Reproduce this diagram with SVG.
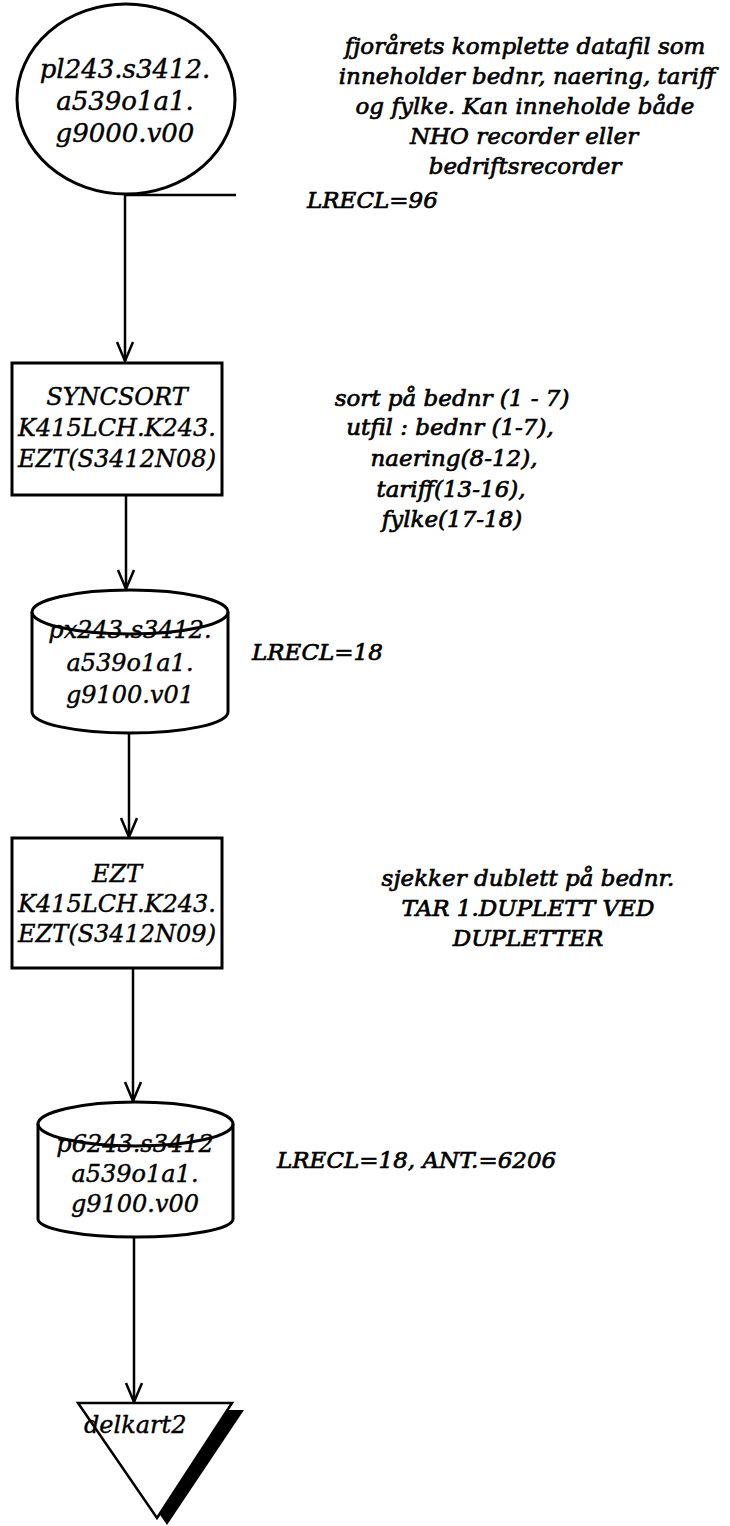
<svg xmlns="http://www.w3.org/2000/svg" width="730" height="1526" viewBox="0 0 730 1526">
<style>
  .t { font-family: "DejaVu Serif", "Liberation Serif", serif; font-style: italic; font-size: 24px; fill: #000; stroke: #000; stroke-width: 0.4; text-anchor: middle; }
  .big { font-size: 26px; }
  .a { font-family: "DejaVu Serif", "Liberation Serif", serif; font-style: italic; font-size: 23px; fill: #000; stroke: #000; stroke-width: 0.7; text-anchor: middle; }
  .l { text-anchor: start; }
  .s { fill: #fff; stroke: #000; stroke-width: 3; }
  .c { fill: none; stroke: #000; stroke-width: 2.5; }
</style>
<defs>
  <marker id="arr" markerUnits="userSpaceOnUse" markerWidth="30" markerHeight="30" refX="0" refY="0" orient="auto" overflow="visible" viewBox="-25 -12 30 24">
    <path d="M -19 -8 L 0 0 L -19 8" fill="none" stroke="#000" stroke-width="2.5"/>
  </marker>
</defs>
<rect width="730" height="1526" fill="#fff"/>
<g id="connectors">
  <line class="c" x1="125" y1="195" x2="236" y2="195"/>
  <line class="c" x1="125" y1="195" x2="125" y2="361" marker-end="url(#arr)"/>
  <line class="c" x1="126" y1="495" x2="126" y2="589" marker-end="url(#arr)"/>
  <line class="c" x1="129" y1="734" x2="129" y2="837" marker-end="url(#arr)"/>
  <line class="c" x1="133" y1="968" x2="133" y2="1101" marker-end="url(#arr)"/>
  <line class="c" x1="134" y1="1237" x2="134" y2="1402" marker-end="url(#arr)"/>
</g>
<g id="n1">
  <ellipse class="s" cx="126" cy="99" rx="109" ry="95"/>
  <text class="t big" x="125" y="78">pl243.s3412.</text>
  <text class="t big" x="125" y="110">a539o1a1.</text>
  <text class="t big" x="125" y="142">g9000.v00</text>
</g>
<g id="note1">
  <text class="a" x="525" y="54">fjorårets komplette datafil som</text>
  <text class="a" x="527" y="84">inneholder bednr, naering, tariff</text>
  <text class="a" x="525" y="114">og fylke. Kan inneholde både</text>
  <text class="a" x="524" y="144">NHO recorder eller</text>
  <text class="a" x="525" y="174">bedriftsrecorder</text>
  <text class="a l" x="307" y="208">LRECL=96</text>
</g>
<g id="n2">
  <rect class="s" x="12" y="363" width="210" height="132"/>
  <text class="t" x="117" y="405">SYNCSORT</text>
  <text class="t" x="117" y="436">K415LCH.K243.</text>
  <text class="t" x="117" y="467">EZT(S3412N08)</text>
</g>
<g id="note2">
  <text class="a" x="452" y="406">sort på bednr (1 - 7)</text>
  <text class="a" x="450" y="435">utfil : bednr (1-7),</text>
  <text class="a" x="454" y="466">naering(8-12),</text>
  <text class="a" x="451" y="497">tariff(13-16),</text>
  <text class="a" x="452" y="527">fylke(17-18)</text>
</g>
<g id="n3">
  <path class="s" d="M 32 612 A 98 22 0 0 1 228 612 L 228 712 A 98 21 0 0 1 32 712 Z"/>
  <path d="M 32 612 A 98 22 0 0 0 228 612" fill="none" stroke="#000" stroke-width="3"/>
  <text class="t" x="130" y="638">px243.s3412.</text>
  <text class="t" x="130" y="671">a539o1a1.</text>
  <text class="t" x="130" y="703">g9100.v01</text>
  <text class="a l" x="252" y="660">LRECL=18</text>
</g>
<g id="n4">
  <rect class="s" x="12" y="838" width="210" height="130"/>
  <text class="t" x="117" y="882">EZT</text>
  <text class="t" x="117" y="912">K415LCH.K243.</text>
  <text class="t" x="117" y="942">EZT(S3412N09)</text>
</g>
<g id="note3">
  <text class="a" x="528" y="886">sjekker dublett på bednr.</text>
  <text class="a" x="528" y="916">TAR 1.DUPLETT VED</text>
  <text class="a" x="528" y="946">DUPLETTER</text>
</g>
<g id="n5">
  <path class="s" d="M 38 1124 A 97.5 22 0 0 1 233 1124 L 233 1219 A 97.5 18 0 0 1 38 1219 Z"/>
  <path d="M 38 1124 A 97.5 22 0 0 0 233 1124" fill="none" stroke="#000" stroke-width="3"/>
  <text class="t" x="135" y="1152">p6243.s3412</text>
  <text class="t" x="135" y="1182">a539o1a1.</text>
  <text class="t" x="135" y="1212">g9100.v00</text>
  <text class="a l" x="277" y="1168">LRECL=18, ANT.=6206</text>
</g>
<g id="n6">
  <polygon points="88,1410 244,1410 167,1525" fill="#000"/>
  <polygon points="78,1403 232,1403 157,1518" fill="#fff" stroke="#000" stroke-width="2.5" stroke-linejoin="miter"/>
  <text class="t l" x="84" y="1433">delkart2</text>
</g>
</svg>
